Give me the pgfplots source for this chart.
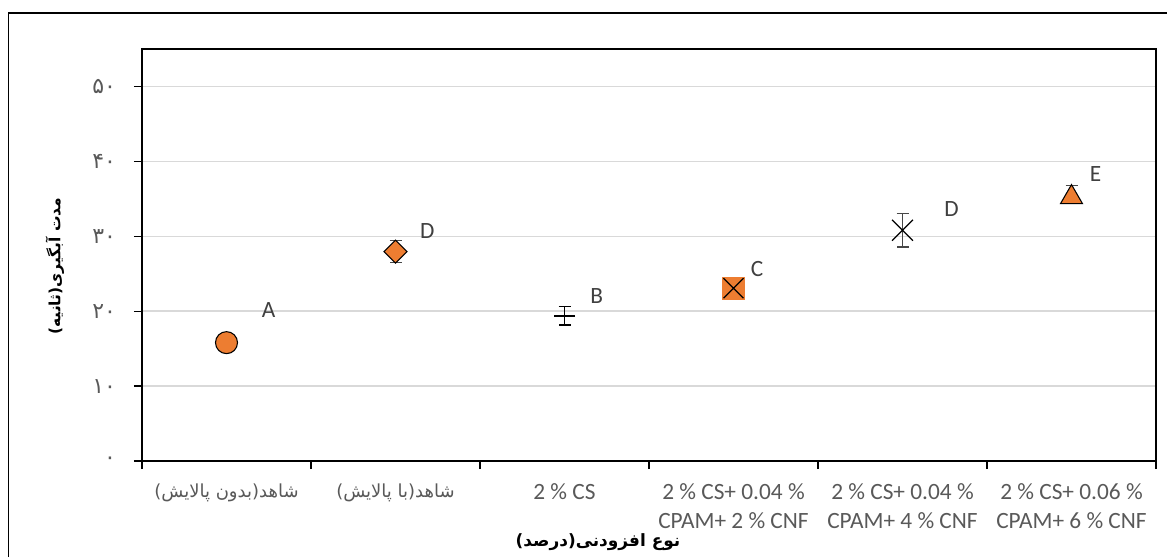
\documentclass[border=0pt]{standalone}
\usepackage{pgfplots}
\pgfplotsset{compat=1.18}
\usepackage{fontspec}
\setmainfont{Carlito}
\newfontfamily\arabicfont[Script=Arabic]{DejaVu Sans}
\TeXXeTstate=1
\definecolor{orng}{HTML}{ED7D31}
\definecolor{tickgray}{HTML}{595959}
\definecolor{lblgray}{HTML}{404040}
\definecolor{gridgray}{HTML}{D9D9D9}
\begin{document}
\begin{tikzpicture}[x=0.75pt,y=0.75pt]
\useasboundingbox (0,0) rectangle (1167,557);
\draw[line width=1.4pt] (8.5,0) -- (8.5,544) -- (1167,544);
\begin{axis}[
  at={(106.5pt,72pt)}, anchor=south west,
  scale only axis, width=760.5pt, height=309pt,
  xmin=0.5, xmax=6.5, ymin=0, ymax=55,
  axis line style={black, line width=1.4pt},
  tick align=outside,
  major tick length=6pt,
  tick style={black, line width=0.9pt},
  xtick={0.5,1.5,...,6.5},
  xticklabels={},
  extra x ticks={1,2,3,4,5,6},
  extra x tick labels={
    {\arabicfont\fontsize{13.5}{21.75}\selectfont\beginR شاهد(بدون پالایش)\endR},
    {\arabicfont\fontsize{13.5}{21.75}\selectfont\beginR شاهد(با پالایش)\endR},
    {2 \% CS},
    {2 \% CS+ 0.04 \%\\CPAM+ 2 \% CNF},
    {2 \% CS+ 0.04 \%\\CPAM+ 4 \% CNF},
    {2 \% CS+ 0.06 \%\\CPAM+ 6 \% CNF}},
  extra x tick style={tick style={draw=none}, grid=none},
  xticklabel style={font=\fontsize{17.5}{21.75}\selectfont, text=tickgray, align=center, anchor=north, yshift=-7.5pt},
  xtick pos=bottom, ytick pos=left,
  ytick={0,10,20,30,40,50},
  yticklabels={۰,۱۰,۲۰,۳۰,۴۰,۵۰},
  yticklabel style={font=\arabicfont\fontsize{16.5}{18}\selectfont, text=tickgray, xshift=-10pt},
  ymajorgrids, grid style={gridgray, line width=1.1pt},
  xlabel={\bfseries\beginR نوع افزودنی(درصد)\endR},
  xlabel style={at={(axis description cs:0.4497,-0.197)}, anchor=center, font=\arabicfont\fontsize{12.7}{15}\selectfont},
  ylabel={\bfseries\beginR مدت آبگیری(ثانیه)\endR},
  ylabel style={at={(axis description cs:-0.0858,0.473)}, anchor=center, font=\arabicfont\fontsize{11.6}{14}\selectfont},
  clip=false,
]
% error bars (drawn first, behind markers)
\addplot[draw=none, mark=none, forget plot,
  error bars/.cd, y dir=both, y explicit, error mark=-,
  error bar style={draw=black!72, line width=0.9pt},
  error mark options={rotate=90, draw=black!72, mark size=4.5pt, line width=0.9pt}]
  coordinates {(2,27.96) +- (0,1.51) (5,30.8) +- (0,2.22) (6,35.67) +- (0,1.15)};
\addplot[draw=none, mark=none, forget plot,
  error bars/.cd, y dir=both, y explicit, error mark=-,
  error bar style={draw=black, line width=0.9pt},
  error mark options={rotate=90, draw=black, mark size=4.5pt, line width=0.9pt}]
  coordinates {(3,19.37) +- (0,1.22)};
% markers
\addplot[only marks, mark=*, mark size=8.25pt, mark options={fill=orng, draw=black, line width=0.8pt}] coordinates {(1,15.8)};
\addplot[only marks, mark=square*, mark size=6.1pt, mark options={rotate=45, fill=orng, draw=black, line width=0.8pt}] coordinates {(2,27.96)};
\addplot[only marks, mark=-, mark size=7.9pt, mark options={draw=black, line width=0.9pt}] coordinates {(3,19.37)};
\addplot[only marks, mark=square*, mark size=8.25pt, mark options={fill=orng, draw=orng}] coordinates {(4,23.07)};
\addplot[only marks, mark=x, mark size=10.6pt, mark options={draw=black, line width=0.9pt}] coordinates {(4,23.07)};
\addplot[only marks, mark=x, mark size=11.1pt, mark options={draw=black, line width=0.9pt}] coordinates {(5,30.8)};
\addplot[only marks, mark=triangle*, mark size=9.5pt, mark options={yshift=-2.6pt, fill=orng, draw=black, line width=0.8pt}] coordinates {(6,35.67)};
% data labels
\addplot[draw=none, mark=none, nodes near coords, point meta=explicit symbolic,
  every node near coord/.style={anchor=center, font=\fontsize{17.5}{21}\selectfont, text=lblgray}]
  coordinates {(1.249,20.2)[A] (2.188,30.67)[D] (3.191,22.0)[B] (4.14,25.69)[C] (5.29,33.6)[D] (6.142,38.36)[E]};
\end{axis}
\end{tikzpicture}
\end{document}
